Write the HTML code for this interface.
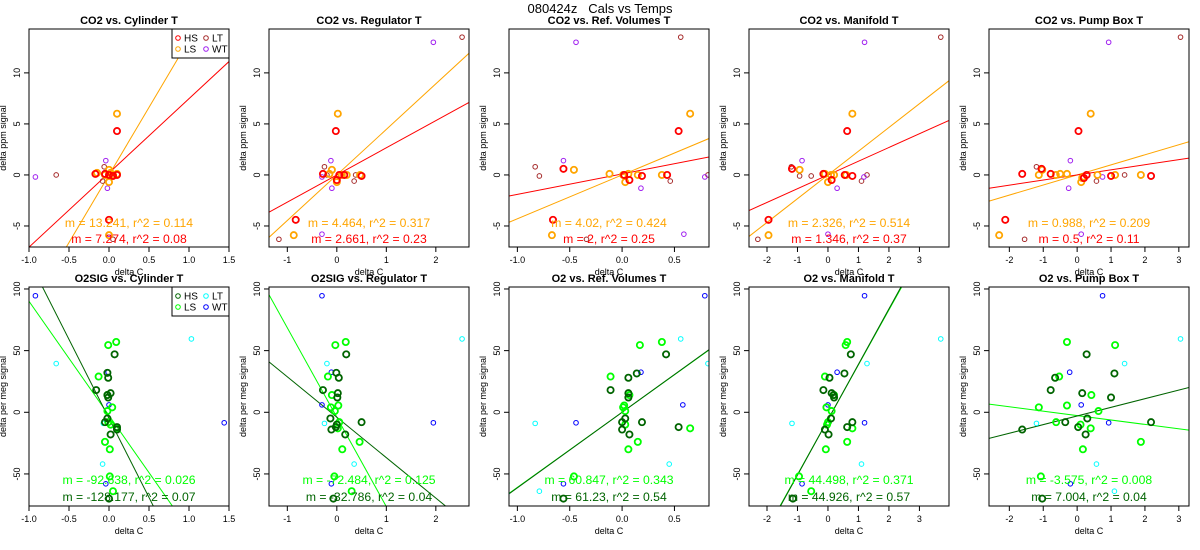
<!DOCTYPE html>
<html><head><meta charset="utf-8"><style>
html,body{margin:0;background:#fff;width:1200px;height:550px;overflow:hidden}
svg{display:block;font-family:"Liberation Sans",sans-serif}
</style></head><body>
<svg id="c" width="1200" height="550" xmlns="http://www.w3.org/2000/svg">
<text x="600" y="13" font-size="13" text-anchor="middle" style="white-space:pre" xml:space="preserve">080424z   Cals vs Temps</text>
</svg>
<script>
const topTitles = ["CO2 vs. Cylinder T","CO2 vs. Regulator T","CO2 vs. Ref. Volumes T","CO2 vs. Manifold T","CO2 vs. Pump Box T"];
const botTitles = ["O2SIG vs. Cylinder T","O2SIG vs. Regulator T","O2 vs. Ref. Volumes T","O2 vs. Manifold T","O2 vs. Pump Box T"];
const xlims = [[-1,1.5],[-1.37,2.67],[-1.08,0.83],[-2.59,3.97],[-2.6,3.3]];
const xticks = [[-1,-0.5,0,0.5,1,1.5],[-1,0,1,2],[-1,-0.5,0,0.5],[-2,-1,0,1,2,3],[-2,-1,0,1,2,3]];
const xtickLabels = [["-1.0","-0.5","0.0","0.5","1.0","1.5"],["-1","0","1","2"],["-1.0","-0.5","0.0","0.5"],["-2","-1","0","1","2","3"],["-2","-1","0","1","2","3"]];
const topYlim = [-7.06,14.3];
const topYticks = [-5,0,5,10];
const botYlim = [-76,101.6];
const botYticks = [-50,0,50,100];

const topHS = [
 [[0.1,4.3],[-0.17,0.1],[0,-4.4],[0.1,0],[0,0],[-0.05,0.1],[0.05,-0.1]],
 [[-0.02,4.3],[-0.28,0.1],[-0.83,-4.4],[0.5,-0.1],[0,-0.5],[0.15,0],[0.05,0]],
 [[0.54,4.3],[-0.56,0.6],[-0.66,-4.4],[0.43,0],[0.19,-0.1],[0.07,-0.5],[0.02,0]],
 [[0.63,4.3],[-1.18,0.6],[-1.95,-4.4],[0.8,-0.1],[-0.15,0.1],[0.12,-0.5],[0.55,0]],
 [[0.04,4.3],[-1.62,0.1],[-2.12,-4.4],[2.18,-0.1],[-0.78,0.1],[1,-0.1],[0.28,0],[0.2,-0.3],[-1.05,0.6]]];
const topLS = [
 [[0.1,6],[0,-5.9],[-0.15,0.2],[0,0.5],[0,-0.7],[0.05,0],[-0.05,0],[0.1,0.1],[0.02,0.2]],
 [[0.02,6],[-0.87,-5.9],[-0.1,0.5],[0,-0.7],[0.47,0],[-0.15,0.1],[0.2,0],[0.1,0]],
 [[0.65,6],[-0.67,-5.9],[-0.46,0.5],[-0.12,0.1],[0.38,0],[0.15,0],[0.03,-0.7],[0.01,0],[0.06,0.1]],
 [[0.8,6],[-1.95,-5.9],[-0.93,0.5],[0.6,0],[0,-0.7],[0.1,0],[-0.1,0.1],[0.2,0]],
 [[0.4,6],[-2.3,-5.9],[-1.03,0.5],[1.88,0],[-0.5,0.1],[-0.3,0.1],[-1.13,0],[0.12,-0.7],[0.6,0],[1.12,0],[-0.63,0],[0.15,-0.3]]];
const topLT = [
 [[-0.66,0],[-0.06,0.8],[-0.08,-0.6],[0.05,-6.3]],
 [[2.53,13.5],[-0.25,0.8],[0.35,-0.6],[-1.17,-6.3],[0.38,0],[-0.2,0]],
 [[0.56,13.5],[-1.1,-0.1],[-0.83,0.8],[0.46,-0.6],[0.82,0],[-0.34,-6.3],[-0.79,-0.1]],
 [[3.7,13.5],[-1.2,0.8],[-0.93,-0.1],[1.1,-0.6],[1.28,0],[-2.3,-6.3],[-0.55,-0.1]],
 [[3.05,13.5],[-1.2,0.8],[0.57,-0.6],[1.4,0],[-1.55,-6.3]]];
const topWT = [
 [[-0.92,-0.2],[-0.04,1.4],[-0.02,-1.3],[0,-5.8]],
 [[1.95,13],[-0.12,1.4],[-0.1,-1.3],[-0.3,-0.2],[-0.3,-5.8]],
 [[-0.44,13],[-0.56,1.4],[0.18,-1.3],[0.79,-0.2],[0.59,-5.8]],
 [[1.2,13],[-0.85,1.4],[0.3,-1.3],[1.18,-0.2],[0,-5.8]],
 [[0.93,13],[-0.2,1.4],[-0.25,-1.3],[0.75,-0.2],[0.12,-5.8]]];
const botHS = [
 [[0.07,47],[-0.02,32],[-0.01,28],[-0.16,18],[0.02,15.5],[-0.01,12],[-0.02,-5],[-0.05,-8],[0.1,-12],[0.1,-14],[0.02,-18],[0,-70],[-0.02,14]],
 [[0.19,47],[-0.01,32],[0.04,28],[-0.28,18],[0.02,15.5],[0.01,12],[-0.13,-5],[0.5,-8],[-0.02,-12],[-0.11,-14],[0.17,-18],[-0.07,-70],[0,-10]],
 [[0.42,47],[0.14,31.5],[0.06,28],[-0.11,18],[0.06,15.5],[0.06,12],[0.03,-5],[0.19,-8],[0.54,-12],[0,-14],[0.07,-18],[-0.56,-70],[0,-8]],
 [[0.75,47],[0.54,31.5],[0.05,28],[-0.15,18],[0.12,15.5],[0.2,12],[0.1,-5],[0.8,-8],[0.63,-12],[-0.1,-14],[0.02,-18],[-1.15,-70],[0.18,14]],
 [[0.28,47],[1.1,31.5],[-0.65,28],[-0.78,18],[0.15,15.5],[1,12],[0.3,-5],[2.18,-8],[-0.35,-8],[0.03,-12],[-1.62,-14],[0.25,-18],[-1.03,-70]]];
const botLS = [
 [[0.09,57],[-0.01,54.5],[-0.13,29],[-0.02,14],[0.04,4],[-0.02,1],[-0.01,-8],[0.02,-10],[0.1,-13],[-0.05,-24],[0.01,-30],[0.01,-52],[0.05,-64]],
 [[0.18,57],[-0.03,54.5],[-0.18,29],[-0.1,14],[0.03,5.5],[-0.12,4],[-0.04,1],[0.05,-8],[0.02,-13],[0.46,-24],[0.11,-30],[-0.05,-52],[0.3,-64]],
 [[0.38,57],[0.17,54.5],[-0.11,29],[0.07,14],[0.02,5.5],[0.01,4],[0.03,1],[0.03,-10],[0.65,-13],[0.15,-24],[0.06,-30],[-0.46,-52]],
 [[0.63,57],[0.58,54.5],[-0.1,29],[0.2,14],[-0.05,4],[0.12,1],[0,-8],[-0.03,-10],[0.8,-13],[0.63,-24],[-0.07,-30],[-0.95,-52],[-0.55,-64]],
 [[-0.3,57],[1.12,54.5],[-0.53,29],[0.42,14],[-0.3,5.5],[-1.13,4],[0.63,1],[-0.62,-8],[0.1,-10],[0.4,-13],[1.88,-24],[0.17,-30],[-1.07,-52]]];
const botLT = [
 [[1.03,59.5],[-0.66,39.5],[-0.07,-9],[-0.08,-42]],
 [[2.53,59.5],[-0.2,39.5],[-0.25,-9],[0.35,-42]],
 [[0.56,59.5],[0.82,39.5],[-0.83,-9],[0.45,-42],[-0.79,-64],[-1.1,-66]],
 [[3.7,59.5],[1.28,39.5],[-1.18,-9],[1.1,-42]],
 [[3.05,59.5],[1.4,39.5],[-1.2,-9],[0.57,-42],[1.1,-64]]];
const botWT = [
 [[-0.92,94.5],[-0.01,32.5],[0,6],[1.44,-8.5],[-0.04,-58]],
 [[-0.3,94.5],[-0.11,32.5],[-0.3,6],[1.95,-8.5],[-0.11,-58]],
 [[0.79,94.5],[0.18,32.5],[0.58,6],[-0.44,-8.5],[-0.56,-58]],
 [[1.2,94.5],[0.3,32.5],[0,6],[1.2,-8.5],[-0.85,-58]],
 [[0.75,94.5],[-0.22,32.5],[0.12,6],[0.93,-8.5],[-0.2,-58]]];

const topFitHS = [[7.274,0.2],[2.661,0],[2,0.1],[1.346,0],[0.5,0]];
const topFitLS = [[13.241,0],[4.464,0],[4.3,0],[2.326,0],[0.988,0]];
const botFitHS = [[-128.177,-5],[-32.786,-4],[61.23,0],[44.926,-6],[7.004,-3]];
const botFitLS = [[-92.638,-2.6],[-72.484,-4],[60.847,0],[44.498,-6],[-3.575,-2.7]];
const topLabLS = ["m = 13.241, r^2 = 0.114","m = 4.464, r^2 = 0.317","m = 4.02, r^2 = 0.424","m = 2.326, r^2 = 0.514","m = 0.988, r^2 = 0.209"];
const topLabHS = ["m = 7.274, r^2 = 0.08","m = 2.661, r^2 = 0.23","m = 2, r^2 = 0.25","m = 1.346, r^2 = 0.37","m = 0.5, r^2 = 0.11"];
const botLabLS = ["m = -92.638, r^2 = 0.026","m = -72.484, r^2 = 0.125","m = 60.847, r^2 = 0.343","m = 44.498, r^2 = 0.371","m = -3.575, r^2 = 0.008"];
const botLabHS = ["m = -128.177, r^2 = 0.07","m = -32.786, r^2 = 0.04","m = 61.23, r^2 = 0.54","m = 44.926, r^2 = 0.57","m = 7.004, r^2 = 0.04"];

const NS="http://www.w3.org/2000/svg";
const svg=document.getElementById('c');
function mk(tag,attrs,parent){const e=document.createElementNS(NS,tag);for(const k in attrs)e.setAttribute(k,attrs[k]);(parent||svg).appendChild(e);return e;}

function panel(i,row){
  const left=240*i+29, right=240*i+229;
  const top=row?287:29, bot=row?506:247;
  const yl=row?botYlim:topYlim, yt=row?botYticks:topYticks;
  const xl=xlims[i];
  const sx=v=>left+(v-xl[0])/(xl[1]-xl[0])*(right-left);
  const sy=v=>bot-(v-yl[0])/(yl[1]-yl[0])*(bot-top);
  const g=mk('g',{});
  
  
  const cid='clip'+row+i;
  const cp=mk('clipPath',{id:cid},g); mk('rect',{x:left,y:top,width:right-left,height:bot-top},cp);
  const t=mk('text',{x:(left+right)/2,y:top-5,'font-size':11,'font-weight':'bold','text-anchor':'middle'},g);
  t.textContent=(row?botTitles:topTitles)[i];
  
  
  xticks[i].forEach((v,k)=>{const x=sx(v);
    mk('line',{x1:x,x2:x,y1:bot,y2:bot+5,stroke:'#000','stroke-width':1},g);
    const tl=mk('text',{x:x,y:bot+16,'font-size':9,'text-anchor':'middle'},g);tl.textContent=xtickLabels[i][k];
    
    });
  yt.forEach(v=>{const y=sy(v);
    mk('line',{x1:left-5,x2:left,y1:y,y2:y,stroke:'#000','stroke-width':1},g);
    const tl=mk('text',{x:left-9,y:y,'font-size':9,'text-anchor':'middle',transform:`rotate(-90 ${left-9} ${y})`},g);tl.textContent=v;
    
    });
  const xt=mk('text',{x:(left+right)/2,y:bot+28,'font-size':9,'text-anchor':'middle'},g);xt.textContent='delta C';
  
  
  const yx=left-23,yy=(top+bot)/2;
  const ytt=mk('text',{x:yx,y:yy,'font-size':9,'text-anchor':'middle',transform:`rotate(-90 ${yx} ${yy})`},g);
  ytt.textContent=row?'delta per meg signal':'delta ppm signal';
  
  
  const cg=mk('g',{'clip-path':`url(#${cid})`},g);
  const cols=row?['#006400','#00ff00','#00ffff','#0000ff']:['#ff0000','#ffa500','#a52a2a','#a020f0'];
  const sets=row?[botHS[i],botLS[i],botLT[i],botWT[i]]:[topHS[i],topLS[i],topLT[i],topWT[i]];
  const names=['hs','ls','lt','wt'];
  const fits=row?[botFitHS[i],botFitLS[i]]:[topFitHS[i],topFitLS[i]];
  [1,0].forEach(s=>{const [m,b]=fits[s];
    const ln=mk('line',{x1:sx(xl[0]),y1:sy(m*xl[0]+b),x2:sx(xl[1]),y2:sy(m*xl[1]+b),stroke:cols[s],'stroke-width':1},cg);
    
    });
  [2,3,1,0].forEach(s=>{sets[s].forEach(p=>{
    const thick=s<2;
    const c=mk('circle',{cx:sx(p[0]),cy:sy(p[1]),r:thick?3.1:2.3,fill:'none',stroke:cols[s],'stroke-width':thick?1.8:1},cg);
    
    });});
  const l1=mk('text',{x:(left+right)/2,y:row?484:227,'font-size':12.2,'text-anchor':'middle',fill:cols[1]},g);
  l1.textContent=(row?botLabLS:topLabLS)[i];
  
  
  const l2=mk('text',{x:(left+right)/2,y:row?501:243,'font-size':12.2,'text-anchor':'middle',fill:cols[0]},g);
  l2.textContent=(row?botLabHS:topLabHS)[i];
  
  
  mk('rect',{x:left,y:top,width:right-left,height:bot-top,fill:'none',stroke:'#000','stroke-width':1},g);
  if(i===0){
    const lg=mk('g',{},g);
    
    
    mk('rect',{x:172,y:top,width:57,height:29,fill:'#fff',stroke:'#000','stroke-width':1},lg);
    const labs=['HS','LS','LT','WT'];const pos=[[178,top+9],[178,top+20],[206,top+9],[206,top+20]];
    labs.forEach((L,k)=>{
      mk('circle',{cx:pos[k][0],cy:pos[k][1],r:2.3,fill:'none',stroke:cols[k],'stroke-width':1},lg);
      const tx=mk('text',{x:pos[k][0]+6,y:pos[k][1]+3.5,'font-size':10},lg);tx.textContent=L;
      
      });
  }
}
for(let i=0;i<5;i++){panel(i,0);panel(i,1);}
</script>
</body></html>
